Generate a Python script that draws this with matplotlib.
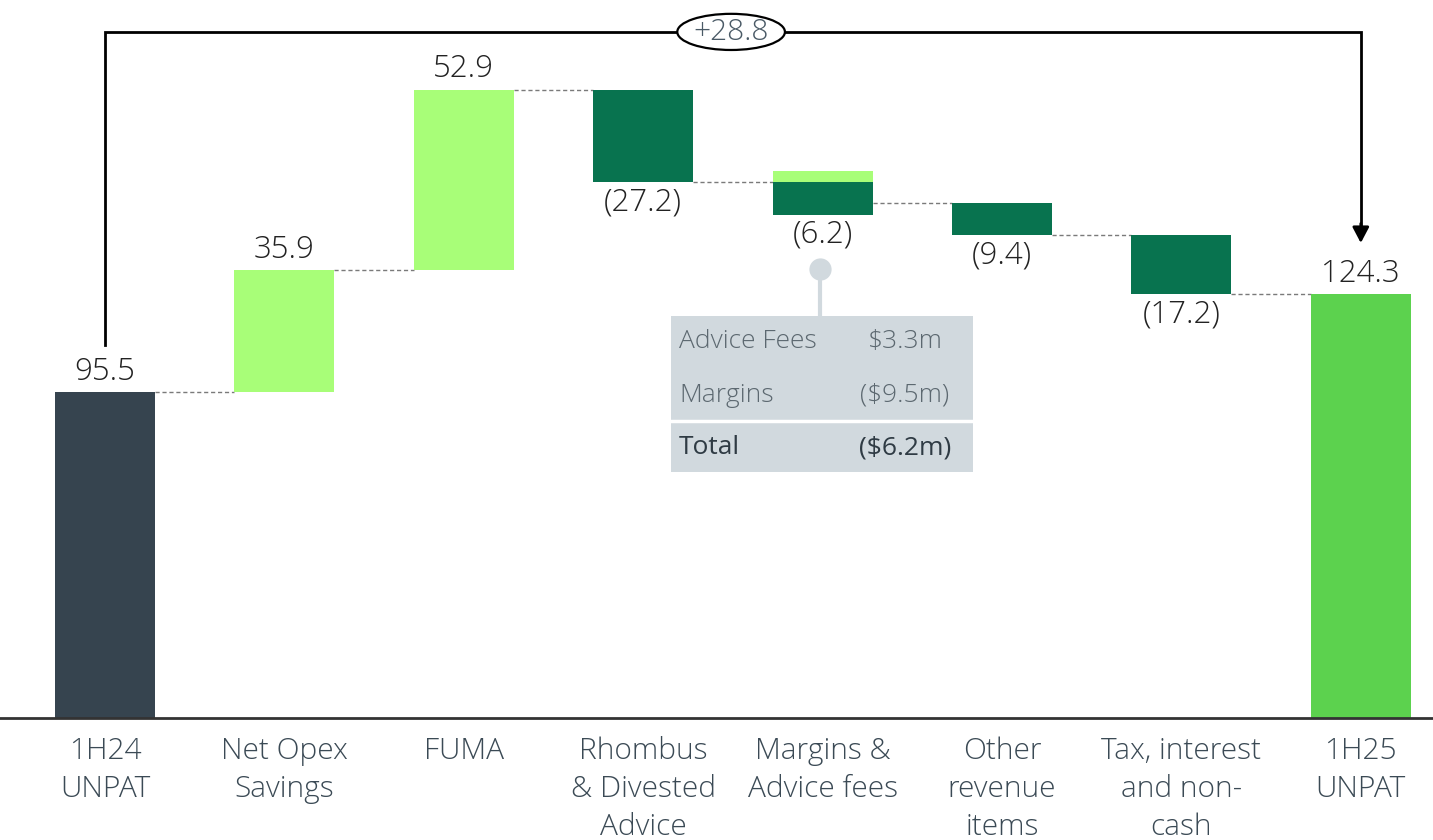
import matplotlib
matplotlib.use("Agg")
import matplotlib.pyplot as plt
from matplotlib.patches import Ellipse, Rectangle
import numpy as np

plt.rcParams['font.family'] = ['Open Sans', 'DejaVu Sans']

categories = ["1H24\nUNPAT", "Net Opex\nSavings", "FUMA", "Rhombus\n& Divested\nAdvice",
              "Margins &\nAdvice fees", "Other\nrevenue\nitems", "Tax, interest\nand non-\ncash",
              "1H25\nUNPAT"]
start_value = 95.5
end_value = 124.3
changes = [35.9, 52.9, -27.2, -6.2, -9.4, -17.2]
margin_parts = [3.3, -9.5]          # Advice fees, Margins
value_labels = ["95.5", "35.9", "52.9", "(27.2)", "(6.2)", "(9.4)", "(17.2)", "124.3"]
total_change_label = "+28.8"
callout_rows = [("Advice Fees", "$3.3m"), ("Margins", "($9.5m)"), ("Total", "($6.2m)")]

C_START = "#36444f"
C_UP = "#a8fe78"
C_DOWN = "#08734f"
C_END = "#5cd24e"
C_TEXT = "#222222"
C_LABEL = "#3b4a55"
VFS = 22.5

fig = plt.figure(figsize=(14.33, 8.4), dpi=100)
ax = fig.add_axes([0, 1 - 718 / 840, 1, 718 / 840])
ax.set_xlim(-105 / 179.4, (1433 - 105) / 179.4)
ax.set_ylim(0, 718 / 3.41)
W = 0.557

x = np.arange(len(categories))
ax.bar(x[0], start_value, width=W, color=C_START, zorder=2)
ax.bar(x[-1], end_value, width=W, color=C_END, zorder=2)

level = start_value
for i, ch in enumerate(changes):
    xi = x[i + 1]
    if i == 3:  # margins & advice fees split
        ax.bar(xi, margin_parts[0], bottom=level, width=W, color=C_UP, zorder=2)
        ax.bar(xi, margin_parts[1], bottom=level, width=W, color=C_DOWN, zorder=2)
        low = level + margin_parts[1]
    else:
        ax.bar(xi, ch, bottom=level, width=W, color=C_UP if ch > 0 else C_DOWN, zorder=2)
        low = min(level, level + ch)
    ax.plot([x[i] + W / 2, xi - W / 2], [level, level], ls=(0, (3, 2)), color="#7a7a7a", lw=1, zorder=1)
    if ch > 0:
        ax.annotate(value_labels[i + 1], (xi, level + ch), xytext=(0, 3), textcoords="offset points",
                    ha="center", va="bottom", fontsize=VFS, fontweight="light", color=C_TEXT)
    else:
        ax.annotate(value_labels[i + 1], (xi, low), xytext=(0, -3), textcoords="offset points",
                    ha="center", va="top", fontsize=VFS, fontweight="light", color=C_TEXT)
    level = level + ch
ax.plot([x[-2] + W / 2, x[-1] - W / 2], [level, level], ls=(0, (3, 2)), color="#7a7a7a", lw=1, zorder=1)

ax.annotate(value_labels[0], (x[0], start_value), xytext=(0, 3), textcoords="offset points",
            ha="center", va="bottom", fontsize=VFS, fontweight="light", color=C_TEXT)
ax.annotate(value_labels[-1], (x[-1], end_value), xytext=(0, 3), textcoords="offset points",
            ha="center", va="bottom", fontsize=VFS, fontweight="light", color=C_TEXT)

# bracket
top_y = 201.2
ax.plot([x[0], x[0], x[-1], x[-1]], [109.4, top_y, top_y, 143.5], color="black", lw=2, zorder=3,
        solid_joinstyle="miter")
ax.annotate("", xy=(x[-1], 139.3), xytext=(x[-1], 145),
            arrowprops=dict(arrowstyle="-|>,head_length=0.95,head_width=0.5", color="black", lw=2,
                            shrinkA=0, shrinkB=0), zorder=4)
cx = (x[0] + x[-1]) / 2 - 0.01
ax.add_patch(Ellipse((cx, top_y), width=0.6, height=10.6, facecolor="white",
                     edgecolor="black", lw=1.6, zorder=5))
ax.text(cx, top_y, total_change_label, ha="center", va="center", fontsize=21.5,
        fontweight="light", color="#4a5a66", zorder=6)

# callout
px = lambda p: (p - 105) / 179.4
py = lambda p: (718 - p) / 3.41
C_BOX = "#d1d9de"
ax.add_patch(Rectangle((px(671), py(472)), px(973) - px(671), py(316) - py(472), facecolor=C_BOX,
                       edgecolor="none", zorder=2))
ax.plot([px(671), px(973)], [py(421), py(421)], color="white", lw=2.5, zorder=3)
ax.plot([px(820), px(820)], [py(269), py(316)], color=C_BOX, lw=3, zorder=2)
ax.plot([px(820)], [py(269)], marker="o", ms=15, color=C_BOX, zorder=2)
row_y = [342, 395, 448]
for (lab, val), ry in zip(callout_rows, row_y):
    bold = lab == "Total"
    col = "#2f3b44" if bold else "#5c6870"
    wt = "normal" if bold else "light"
    ax.text(px(679), py(ry), lab, ha="left", va="center", fontsize=19, color=col, fontweight=wt, zorder=4)
    ax.text(px(905), py(ry), val, ha="center", va="center", fontsize=19, color=col, fontweight=wt, zorder=4)

# axes styling
for s in ["top", "right", "left"]:
    ax.spines[s].set_visible(False)
ax.spines["bottom"].set_color("#333333")
ax.spines["bottom"].set_linewidth(2)
ax.set_yticks([])
ax.set_xticks(x)
ax.set_xticklabels(categories, fontsize=21.5, fontweight="light", color=C_LABEL, linespacing=1.38)
ax.tick_params(axis="x", length=0, pad=13.5)

fig.savefig("out.png", dpi=100)
